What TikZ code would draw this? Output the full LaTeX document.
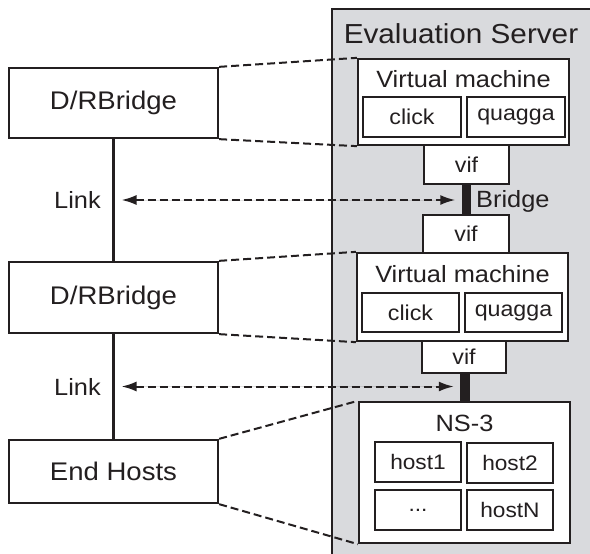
\documentclass[tikz,border=0pt]{standalone}
\usepackage{fontspec}
\setmainfont[FakeStretch=1.08]{Liberation Sans}
\usetikzlibrary{arrows.meta}
\definecolor{panelgray}{RGB}{217,218,221}
\definecolor{ink}{RGB}{35,31,32}
\begin{document}
\begin{tikzpicture}[x=1pt,y=-1pt,
  box/.style={draw=ink, line width=2.3pt, fill=white, inner sep=0pt, text=ink},
  txt/.style={inner sep=0pt, text=ink},
  bigf/.style={font=\fontsize{25.5}{29}\selectfont},
  midf/.style={font=\fontsize{23.5}{27}\selectfont},
  smf/.style={font=\fontsize{21.5}{25}\selectfont},
  hostf/.style={font=\fontsize{21}{24}\selectfont},
  dsh/.style={draw=ink, line width=2pt, dash pattern=on 8pt off 4pt},
  arr/.style={{Latex[length=15pt,width=10pt]}-{Latex[length=15pt,width=10pt]}},
  barst/.style={fill=ink, draw=none, inner sep=0pt},
  solidl/.style={draw=ink, line width=2.2pt}]
\clip (0,0) rectangle (590,554);
% server panel
\node[draw=ink, line width=1.6pt, fill=panelgray, anchor=north west,
      minimum width=300pt, minimum height=600pt, inner sep=0pt] (srv) at (331,8) {};
\node[txt, font=\fontsize{27.5}{30}\selectfont] (srvt) at (461,34) {Evaluation Server};
% left column
\node[box, bigf, minimum width=209pt, minimum height=70pt] (b1) at (113.5,103) {D/RBridge};
\node[box, bigf, minimum width=209pt, minimum height=71pt] (b2) at (113.5,297.5) {D/RBridge};
\node[box, bigf, minimum width=209pt, minimum height=63pt] (eh) at (113.5,471.5) {End Hosts};
\draw[solidl] (b1.south) -- (b2.north) coordinate[pos=0.5] (l1);
\draw[solidl] (b2.south) -- (eh.north) coordinate[pos=0.5] (l2);
\node[txt, midf, anchor=east] (lk1) at (101,200) {Link};
\node[txt, midf, anchor=east] (lk2) at (101,387) {Link};
% VM 1
\node[box, minimum width=211pt, minimum height=86pt] (vm1) at (463.5,102) {};
\node[txt, midf] (vm1t) at (463.5,79) {Virtual machine};
\node[box, smf, minimum width=98pt, minimum height=40pt] (c1) at (412,117) {click};
\node[box, smf, minimum width=98pt, minimum height=40pt] (q1) at (516,117) {quagga};
\node[box, smf, minimum width=85pt, minimum height=39pt] (vif1) at (466.5,164.5) {vif};
\node[barst, minimum width=9pt, minimum height=31pt] (bar1) at (466,199.5) {};
\node[txt, midf, anchor=west] (brt) at (476,201) {Bridge};
\node[box, smf, minimum width=86pt, minimum height=38pt] (vif2) at (466,234) {vif};
% VM 2
\node[box, minimum width=211pt, minimum height=88pt] (vm2) at (462.5,297) {};
\node[txt, midf] (vm2t) at (462.5,274) {Virtual machine};
\node[box, smf, minimum width=97pt, minimum height=39pt] (c2) at (410.5,312.5) {click};
\node[box, smf, minimum width=97pt, minimum height=39pt] (q2) at (513.5,312.5) {quagga};
\node[box, smf, minimum width=84pt, minimum height=32pt] (vif3) at (464,357) {vif};
\node[barst, minimum width=10pt, minimum height=29pt] (bar2) at (465,387.5) {};
% NS-3
\node[box, minimum width=211pt, minimum height=141pt] (ns) at (464.5,472.5) {};
\node[txt, midf] (nst) at (464.5,423) {NS-3};
\node[box, hostf, minimum width=86pt, minimum height=40pt] (h1) at (418,462) {host1};
\node[box, hostf, minimum width=86pt, minimum height=40pt] (h2) at (510,463) {host2};
\node[box, hostf, minimum width=86pt, minimum height=40pt] (hd) at (418,510) {...};
\node[box, hostf, minimum width=86pt, minimum height=40pt] (hN) at (510,510) {hostN};
% dashed projections
\draw[dsh] (b1.north east) -- (vm1.north west);
\draw[dsh] (b1.south east) -- (vm1.south west);
\draw[dsh] (b2.north east) -- (vm2.north west);
\draw[dsh] (b2.south east) -- (vm2.south west);
\draw[dsh] (eh.north east) -- (ns.north west);
\draw[dsh] (eh.south east) -- (ns.south west);
% link arrows
\draw[dsh, arr, fill=ink] ([xshift=8pt]l1) -- ([xshift=-6pt]bar1.west |- l1);
\draw[dsh, arr, fill=ink] ([xshift=8pt]l2) -- ([xshift=-6pt]bar2.west |- l2);
\end{tikzpicture}
\end{document}
